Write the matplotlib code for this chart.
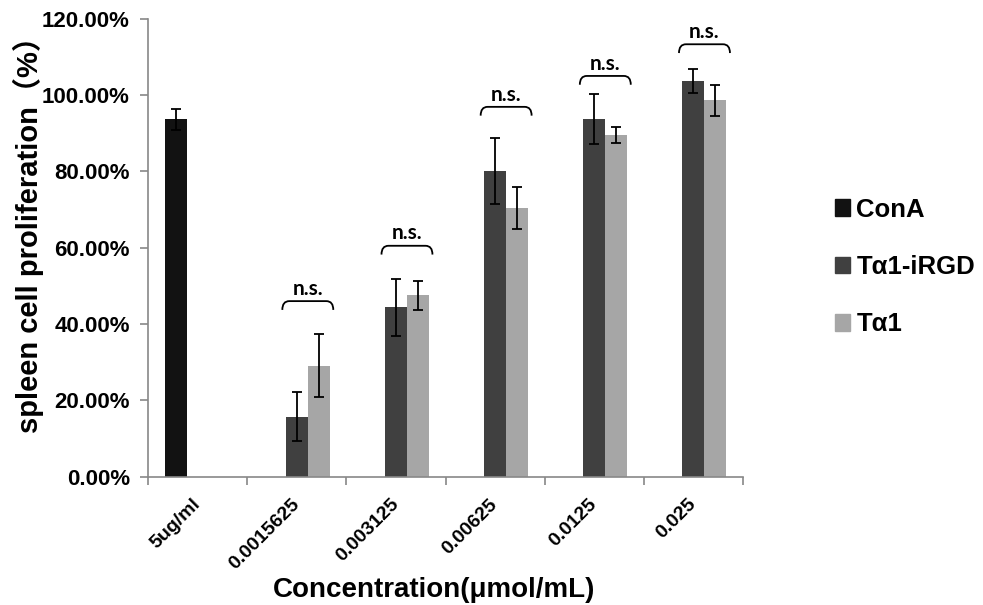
import numpy as np
import matplotlib
matplotlib.use('Agg')
import matplotlib.pyplot as plt
from matplotlib.path import Path
from matplotlib.patches import PathPatch, Patch

plt.rcParams['font.family'] = ['Liberation Sans', 'Noto Sans CJK SC', 'DejaVu Sans']

nan = np.nan
categories = ['5ug/ml', '0.0015625', '0.003125', '0.00625', '0.0125', '0.025']
cona = [0.936, nan, nan, nan, nan, nan]
cona_err = [0.028, nan, nan, nan, nan, nan]
irgd = [nan, 0.157, 0.444, 0.801, 0.937, 1.036]
irgd_err = [nan, 0.064, 0.075, 0.087, 0.066, 0.032]
ta1 = [nan, 0.291, 0.475, 0.704, 0.894, 0.986]
ta1_err = [nan, 0.083, 0.039, 0.056, 0.021, 0.040]
# bracket heights for the pairs (categories 1..5)
bracket_top = [0.460, 0.605, 0.969, 1.050, 1.133]

fig = plt.figure(figsize=(9.83, 6.05), dpi=100)
ax = fig.add_axes([0.1506, 0.2121, 0.6053, 0.757])

x = np.arange(len(categories))
w = 0.222
ebk = dict(ecolor='black', elinewidth=1.3, capsize=3.5, capthick=1.3)
ax.bar(x - w, cona, w, yerr=cona_err, color='#121212', error_kw=ebk, label='ConA')
ax.bar(x, irgd, w, yerr=irgd_err, color='#404040', error_kw=ebk, label='Tα1-iRGD')
ax.bar(x + w, ta1, w, yerr=ta1_err, color='#a6a6a6', error_kw=ebk, label='Tα1')

def brace(xc, ytop, half=0.257, drop=0.023, r=0.07):
    x0, x1 = xc - half, xc + half
    verts = [(x0, ytop - drop), (x0, ytop), (x0 + r, ytop),
             (x1 - r, ytop), (x1, ytop), (x1, ytop - drop)]
    codes = [Path.MOVETO, Path.CURVE3, Path.CURVE3,
             Path.LINETO, Path.CURVE3, Path.CURVE3]
    ax.add_patch(PathPatch(Path(verts, codes), fill=False, lw=1.3, color='black'))
    ax.text(xc, ytop + 0.006, 'n.s.', ha='center', va='bottom',
            fontsize=15, fontweight='bold', family='Lato')

for i, yt in enumerate(bracket_top):
    brace(x[i + 1] + w / 2, yt)

ax.set_xlim(-0.5, len(categories) - 0.5)
ax.set_ylim(0, 1.2)
ax.set_yticks(np.arange(0, 1.21, 0.2))
ax.set_yticklabels(['%.2f%%' % (v * 100) for v in np.arange(0, 1.21, 0.2)],
                   fontsize=16, fontweight='bold')
ax.tick_params(axis='y', pad=7)
ax.set_xticks(np.arange(-0.5, len(categories)), minor=False)
ax.set_xticklabels([])
ax.set_xticks(x, minor=True)
ax.set_xticklabels(categories, minor=True, rotation=45, ha='right', va='center',
                   rotation_mode='anchor', fontsize=14, fontweight='bold')
ax.tick_params(axis='x', which='minor', length=0, pad=18)
ax.tick_params(axis='both', which='major', length=6, color='#888888', width=1.2)

for s in ['top', 'right']:
    ax.spines[s].set_visible(False)
for s in ['left', 'bottom']:
    ax.spines[s].set_color('#888888')
    ax.spines[s].set_linewidth(1.2)

ax.set_ylabel('spleen cell proliferation（%）', fontsize=21, fontweight='bold')
ax.yaxis.set_label_coords(-0.175, 0.545)
ax.set_xlabel('Concentration(μmol/mL)', fontsize=20, fontweight='bold')
ax.xaxis.set_label_coords(0.48, -0.22)

handles = [Patch(color='#121212'), Patch(color='#404040'), Patch(color='#a6a6a6')]
fig.legend(handles, ['ConA', 'Tα1-iRGD', 'Tα1'], loc='center left',
           bbox_to_anchor=(0.849, 1 - 267 / 605), frameon=False,
           borderpad=0, borderaxespad=0,
           handlelength=0.6, handleheight=0.6, handletextpad=0.25,
           labelspacing=1.3, prop=dict(size=18.5, weight='bold'))

fig.savefig('out.png', dpi=100)
